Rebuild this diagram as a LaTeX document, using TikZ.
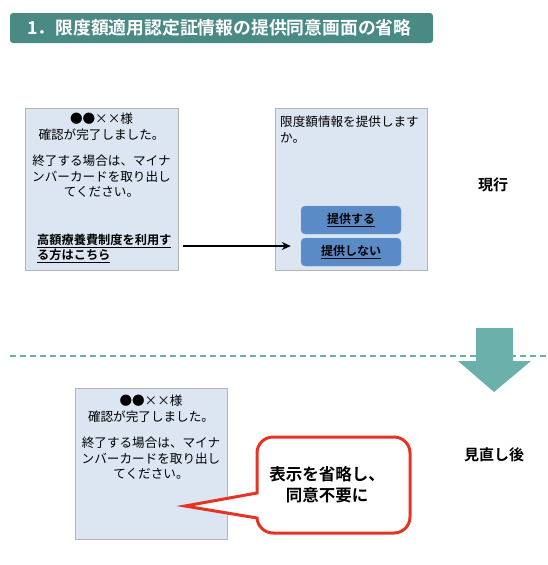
\documentclass[tikz,border=0pt]{standalone}
\usepackage{fontspec}
\setmainfont{Noto Sans CJK JP}[BoldFont={Noto Sans CJK JP Bold}]
\usetikzlibrary{arrows.meta}
\definecolor{titlebg}{HTML}{4A8A85}
\definecolor{screenbg}{HTML}{DCE6F2}
\definecolor{screenln}{HTML}{B4B4B4}
\definecolor{btnbg}{HTML}{5A8BC7}
\definecolor{btnln}{HTML}{7FA6D6}
\definecolor{tealarrow}{HTML}{6BB0AB}
\definecolor{calloutred}{HTML}{E53424}
\tikzset{
  screen/.style={draw=screenln, fill=screenbg, line width=0.8, inner sep=0},
  body/.style={font=\fontsize{12.6}{15.5}\selectfont, inner sep=0, text=black},
  btn/.style={draw=btnln, fill=btnbg, rounded corners=4, minimum width=100, minimum height=28, inner sep=0, font=\fontsize{12}{14}\selectfont\bfseries},
  sidelabel/.style={font=\fontsize{15}{17}\selectfont\bfseries, inner sep=0},
}
\begin{document}
\begin{tikzpicture}[x=1pt,y=-1pt]
\useasboundingbox (0,0) rectangle (548,565);
% title
\node (title) [fill=titlebg, rounded corners=3, minimum width=423, minimum height=30, inner sep=0] at (221.5,28) {};
\node (titletext) [text=white, font=\fontsize{17.8}{20}\selectfont\bfseries, inner sep=0, anchor=west] at (27,28) {1．限度額適用認定証情報の提供同意画面の省略};
% current: screen 1
\node (box1) [screen, minimum width=153, minimum height=162] at (101.5,189) {};
\node (t1a) [body, anchor=north, align=center] at (101.5,113) {●●××様\\確認が完了しました。};
\node (t1b) [body, anchor=north, align=center] at (101.5,155) {終了する場合は、マイナ\\ンバーカードを取り出し\\てください。};
\node (link) [body, anchor=north west, align=left, font=\fontsize{12.2}{11.5}\selectfont\bfseries] at (37,234) {\underline{高額療養費制度を利用す}\\\underline{る方はこちら}};
% current: screen 2
\node (box2) [screen, minimum width=152, minimum height=162] at (351,189) {};
\node (t2) [body, anchor=north west, align=left, font=\fontsize{12.6}{16}\selectfont] at (280,116) {限度額情報を提供します\\か。};
\node (btn1) [btn] at (351,220) {\underline{提供する}};
\node (btn2) [btn] at (351,252) {\underline{提供しない}};
\coordinate (a1) at (183,246);
\draw[line width=2.2, -{Stealth[length=9, width=8]}] (a1) -- ([xshift=-10]btn2.west |- a1);
\node (genko) [sidelabel] at (493,185) {現行};
% divider and arrow
\coordinate (d1) at (10,356);
\coordinate (d2) at (548,356);
\draw[tealarrow, line width=1.3, dash pattern=on 6 off 4] (d1) -- (d2);
\fill[tealarrow] (476,328) -- (513,328) -- (513,361) -- (531,361) -- (494,392) -- (458,361) -- (476,361) -- cycle;
\node (minaoshi) [sidelabel] at (494,455) {見直し後};
% after: screen 3
\node (box3) [screen, minimum width=152, minimum height=151] at (151,463.5) {};
\node (t3a) [body, anchor=north, align=center] at (151,395) {●●××様\\確認が完了しました。};
\node (t3b) [body, anchor=north, align=center] at (151,437) {終了する場合は、マイナ\\ンバーカードを取り出し\\てください。};
% callout
\coordinate (tip) at (185,506);
\draw[calloutred, fill=white, line width=3, line join=miter]
  (257,480) [rounded corners=16] -- (257,437) -- (410,437) -- (410,533) -- (257,533) [sharp corners] -- (257,518) -- (tip) -- (257,493) -- cycle;
\node (ctext) [font=\fontsize{16.5}{21}\selectfont\bfseries, align=center, inner sep=0] at (327,485) {表示を省略し、\\同意不要に};
\end{tikzpicture}
\end{document}
